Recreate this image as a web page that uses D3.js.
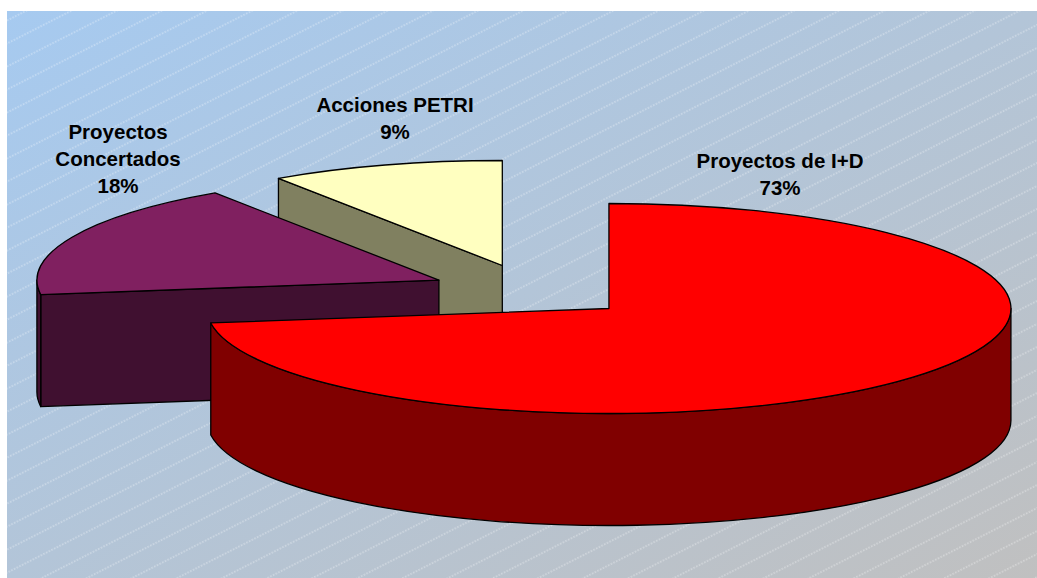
<!DOCTYPE html>
<html>
<head>
<meta charset="utf-8">
<script src="https://cdn.jsdelivr.net/npm/d3@7"></script>
<style>
  body { margin: 0; background: #fff; }
  svg { display: block; }
</style>
</head>
<body>
<script>
// data
const categories = ["Proyectos de I+D", "Proyectos Concertados", "Acciones PETRI"];
const values = [72.8, 17.8, 9.4];
const labelLines = [["Proyectos de I+D"], ["Proyectos", "Concertados"], ["Acciones PETRI"]];
const topColors = ["#ff0000", "#802060", "#ffffc0"];
const sideColors = ["#800000", "#401030", "#808060"];

// layout
const W = 1037, H = 578;
const cx = 532, cy = 291;      // pie centre before explode
const rx = 402, ry = 105;      // ellipse of the top face
const depth = 112;             // thickness
const explode = 102;
const labelPos = [[780, 168], [118, 139], [395, 112]];
const lineGap = 27;

const svg = d3.select("body").append("svg")
    .attr("width", W)
    .attr("height", H);

const defs = svg.append("defs");
const grad = defs.append("linearGradient")
    .attr("id", "bg")
    .attr("x1", 0).attr("y1", 0).attr("x2", 1).attr("y2", 1);
grad.append("stop").attr("offset", 0).attr("stop-color", "#a6caf0");
grad.append("stop").attr("offset", 1).attr("stop-color", "#c0c0c0");

const hatch = defs.append("pattern")
    .attr("id", "hatch")
    .attr("patternUnits", "userSpaceOnUse")
    .attr("width", 12)
    .attr("height", 20.5)
    .attr("patternTransform", "rotate(-27)");
hatch.append("line")
    .attr("x1", 0).attr("y1", 1).attr("x2", 12).attr("y2", 1)
    .attr("stroke", "#ffffff")
    .attr("stroke-width", 1)
    .attr("stroke-dasharray", "1.5,1.5")
    .attr("opacity", 0.6);

svg.append("rect")
    .attr("x", 7).attr("y", 11)
    .attr("width", W - 7).attr("height", H - 11)
    .attr("fill", "url(#bg)");
svg.append("rect")
    .attr("x", 7).attr("y", 11)
    .attr("width", W - 7).attr("height", H - 11)
    .attr("fill", "url(#hatch)");

// slices, clockwise from 12 o'clock like excel
const pie = d3.pie().sort(null).startAngle(0).endAngle(2 * Math.PI);
const arcs = pie(values);

function pt(ox, oy, a, dy) {
    return [ox + rx * Math.sin(a), oy - ry * Math.cos(a) + (dy || 0)];
}

arcs.forEach(function (d) {
    const mid = (d.startAngle + d.endAngle) / 2;
    d.ox = cx + explode * Math.sin(mid);
    d.oy = cy - explode * Math.cos(mid) * ry / rx;
});

const total = d3.sum(values);
const g = svg.append("g")
    .attr("stroke", "#000")
    .attr("stroke-width", 1.3)
    .attr("stroke-linejoin", "round");

// back slices first
arcs.slice().sort((a, b) => a.oy - b.oy).forEach(function (d) {
    const i = d.index;
    const a0 = d.startAngle, a1 = d.endAngle;
    const ox = d.ox, oy = d.oy;

    // radial cut faces that look towards the viewer
    const faces = [];
    if (Math.sin(a0) < -1e-6) faces.push(a0);
    if (Math.sin(a1) > 1e-6) faces.push(a1);
    faces.forEach(function (a) {
        const p = pt(ox, oy, a), q = pt(ox, oy, a, depth);
        g.append("path")
            .attr("d", `M${ox},${oy}L${p[0]},${p[1]}L${q[0]},${q[1]}L${ox},${oy + depth}Z`)
            .attr("fill", sideColors[i]);
    });

    // outer wall, front half only
    const s = Math.max(a0, Math.PI / 2), t = Math.min(a1, 3 * Math.PI / 2);
    if (t > s) {
        const p0 = pt(ox, oy, s), p1 = pt(ox, oy, t);
        const q1 = pt(ox, oy, t, depth), q0 = pt(ox, oy, s, depth);
        g.append("path")
            .attr("d", `M${p0[0]},${p0[1]}A${rx},${ry} 0 0 1 ${p1[0]},${p1[1]}` +
                `L${q1[0]},${q1[1]}A${rx},${ry} 0 0 0 ${q0[0]},${q0[1]}Z`)
            .attr("fill", sideColors[i]);
    }

    // top face
    const p0 = pt(ox, oy, a0), p1 = pt(ox, oy, a1);
    const large = (a1 - a0) > Math.PI ? 1 : 0;
    g.append("path")
        .attr("d", `M${ox},${oy}L${p0[0]},${p0[1]}A${rx},${ry} 0 ${large} 1 ${p1[0]},${p1[1]}Z`)
        .attr("fill", topColors[i]);
});

// labels
const labels = svg.append("g")
    .attr("font-family", "Arial, 'Liberation Sans', sans-serif")
    .attr("font-weight", "bold")
    .attr("font-size", "20.5px")
    .attr("fill", "#000")
    .attr("text-anchor", "middle");

arcs.forEach(function (d) {
    const i = d.index;
    const lines = labelLines[i].concat([Math.round(values[i] / total * 100) + "%"]);
    const txt = labels.append("text")
        .attr("x", labelPos[i][0])
        .attr("y", labelPos[i][1]);
    lines.forEach(function (l, k) {
        txt.append("tspan")
            .attr("x", labelPos[i][0])
            .attr("dy", k === 0 ? 0 : lineGap)
            .text(l);
    });
});
</script>
</body>
</html>
